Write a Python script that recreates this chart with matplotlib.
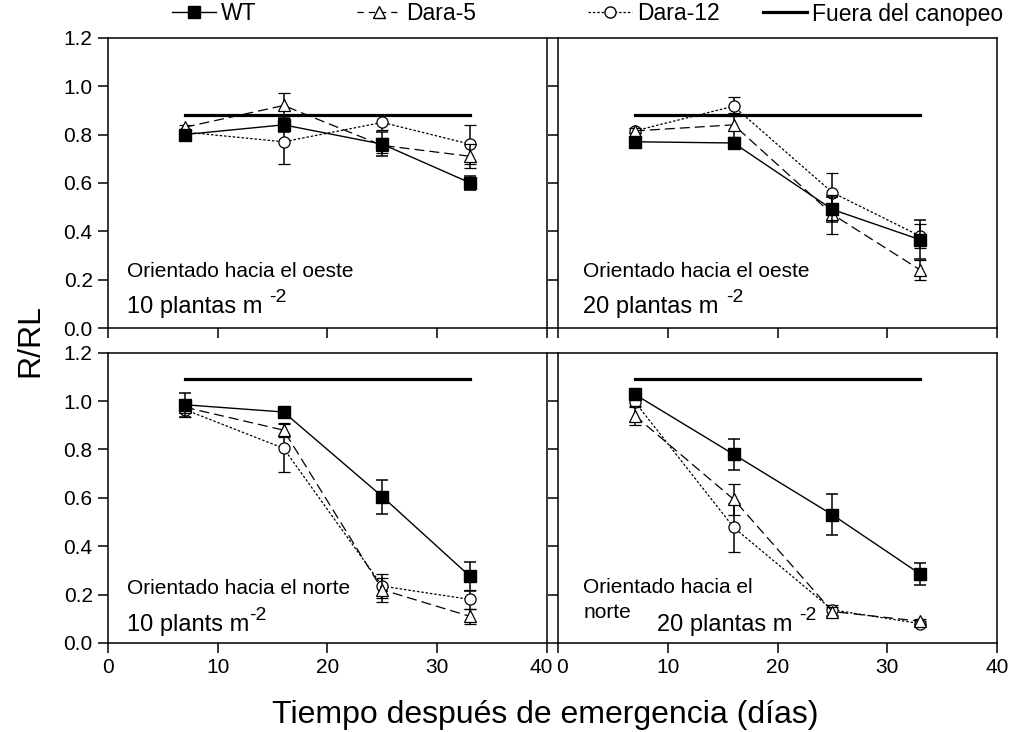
import numpy as np
import matplotlib
matplotlib.use("Agg")
import matplotlib.pyplot as plt
import matplotlib.transforms as mtransforms
from matplotlib.lines import Line2D

plt.rcParams['font.family'] = ['Liberation Sans', 'DejaVu Sans']

# dias despues de emergencia
dias = [7, 16, 25, 33]

# oeste, 10 plantas
wt_o10 = [0.80, 0.84, 0.76, 0.60]
wt_o10_e = [0.02, 0.03, 0.05, 0.03]
d5_o10 = [0.83, 0.92, 0.755, 0.71]
d5_o10_e = [0.01, 0.05, 0.03, 0.05]
d12_o10 = [0.81, 0.77, 0.85, 0.76]
d12_o10_e = [0.01, 0.09, 0.03, 0.08]

# oeste, 20 plantas
wt_o20 = [0.77, 0.765, 0.49, 0.365]
wt_o20_e = [0.02, 0.02, 0.05, 0.08]
d5_o20 = [0.815, 0.84, 0.47, 0.24]
d5_o20_e = [0.01, 0.05, 0.08, 0.04]
d12_o20 = [0.815, 0.917, 0.56, 0.38]
d12_o20_e = [0.01, 0.04, 0.08, 0.05]

# norte, 10 plantas
wt_n10 = [0.985, 0.955, 0.605, 0.275]
wt_n10_e = [0.05, 0.02, 0.07, 0.06]
d5_n10 = [0.975, 0.88, 0.22, 0.11]
d5_n10_e = [0.02, 0.03, 0.05, 0.03]
d12_n10 = [0.965, 0.805, 0.235, 0.18]
d12_n10_e = [0.03, 0.10, 0.05, 0.04]

# norte, 20 plantas
wt_n20 = [1.028, 0.78, 0.53, 0.285]
wt_n20_e = [0.02, 0.065, 0.085, 0.045]
d5_n20 = [0.94, 0.594, 0.13, 0.09]
d5_n20_e = [0.04, 0.065, 0.02, 0.01]
d12_n20 = [0.997, 0.478, 0.137, 0.08]
d12_n20_e = [0.02, 0.10, 0.02, 0.01]

# fuera del canopeo
fuera_oeste = 0.88
fuera_norte = 1.09

fig = plt.figure(figsize=(10.15, 7.32), dpi=100)
w = 0.4325
h = 0.3965
ax_tl = fig.add_axes([0.1064, 0.5519, w, h])
ax_tr = fig.add_axes([0.5498, 0.5519, w, h])
ax_bl = fig.add_axes([0.1064, 0.1216, w, h])
ax_br = fig.add_axes([0.5498, 0.1216, w, h])

paneles = [
    (ax_tl, wt_o10, wt_o10_e, d5_o10, d5_o10_e, d12_o10, d12_o10_e, fuera_oeste),
    (ax_tr, wt_o20, wt_o20_e, d5_o20, d5_o20_e, d12_o20, d12_o20_e, fuera_oeste),
    (ax_bl, wt_n10, wt_n10_e, d5_n10, d5_n10_e, d12_n10, d12_n10_e, fuera_norte),
    (ax_br, wt_n20, wt_n20_e, d5_n20, d5_n20_e, d12_n20, d12_n20_e, fuera_norte),
]

for ax, wt, wte, d5, d5e, d12, d12e, fuera in paneles:
    ax.plot([dias[0], dias[-1]], [fuera, fuera], color='black', lw=2.3, zorder=2)
    ax.errorbar(dias, d12, yerr=d12e, color='black', ls=(0, (2, 1.5)), lw=0.9,
                marker='o', ms=8, mfc='white', mec='black', mew=0.9,
                capsize=4.5, elinewidth=1.1, capthick=1.1, zorder=3)
    ax.errorbar(dias, d5, yerr=d5e, color='black', ls=(0, (8, 4)), lw=0.9,
                marker='^', ms=8, mfc='white', mec='black', mew=0.9,
                capsize=4.5, elinewidth=1.1, capthick=1.1, zorder=4)
    ax.errorbar(dias, wt, yerr=wte, color='black', ls='-', lw=1.0,
                marker='s', ms=9, mfc='black', mec='black',
                capsize=4.5, elinewidth=1.1, capthick=1.1, zorder=5)
    ax.set_xlim(0, 40)
    ax.set_ylim(0, 1.2)
    ax.set_xticks([0, 10, 20, 30, 40])
    ax.set_yticks(np.arange(0, 1.21, 0.2))
    ax.tick_params(direction='out', length=7, width=1.1, labelsize=15, pad=4)
    for s in ax.spines.values():
        s.set_linewidth(1.1)

ax_tl.set_xticklabels([])
ax_tr.set_xticklabels([])
ax_tr.set_yticklabels([])
ax_br.set_yticklabels([])
ax_tl.set_yticklabels(['0.0', '0.2', '0.4', '0.6', '0.8', '1.0', '1.2'])
ax_bl.set_yticklabels(['0.0', '0.2', '0.4', '0.6', '0.8', '1.0', '1.2'])
ax_bl.set_xticklabels(['0', '10', '20', '30', '40'])
ax_br.set_xticklabels(['0', '10', '20', '30', '40'])

# separar el "40" y el "0" que quedan juntos
lab40 = ax_bl.get_xticklabels()[-1]
lab40.set_transform(lab40.get_transform() +
                    mtransforms.ScaledTranslation(-6 / 100, 0, fig.dpi_scale_trans))
lab0 = ax_br.get_xticklabels()[0]
lab0.set_transform(lab0.get_transform() +
                   mtransforms.ScaledTranslation(4 / 100, 0, fig.dpi_scale_trans))


def densidad(ax, x, y, texto):
    t = ax.text(x, y, texto, fontsize=17, va='center')
    ax.annotate('-2', xy=(1, 0.55), xycoords=t, xytext=(0.5, 0),
                textcoords='offset points', fontsize=14, va='bottom', ha='left')


ax_tl.text(1.7, 0.232, 'Orientado hacia el oeste', fontsize=15, va='center')
densidad(ax_tl, 1.7, 0.087, '10 plantas m ')
ax_tr.text(2.3, 0.232, 'Orientado hacia el oeste', fontsize=15, va='center')
densidad(ax_tr, 2.3, 0.087, '20 plantas m ')
ax_bl.text(1.7, 0.227, 'Orientado hacia el norte', fontsize=15, va='center')
densidad(ax_bl, 1.7, 0.074, '10 plants m')
ax_br.text(2.3, 0.23, 'Orientado hacia el', fontsize=15, va='center')
ax_br.text(2.3, 0.124, 'norte', fontsize=15, va='center')
densidad(ax_br, 9.0, 0.074, '20 plantas m ')

fig.text(0.03, 0.535, 'R/RL', rotation=90, fontsize=23, ha='center', va='center')
fig.text(0.537, 0.023, 'Tiempo después de emergencia (días)', fontsize=23,
         ha='center', va='center')

# leyenda: cada entrada en su sitio
entradas = [
    (Line2D([], [], color='black', ls='-', lw=1.0, marker='s', ms=9), 'WT', 172),
    (Line2D([], [], color='black', ls=(0, (5, 4)), lw=0.9, marker='^', ms=8,
            mfc='white'), 'Dara-5', 357),
    (Line2D([], [], color='black', ls=(0, (2, 1.5)), lw=0.9, marker='o', ms=8,
            mfc='white'), 'Dara-12', 588),
    (Line2D([], [], color='black', ls='-', lw=2.3), 'Fuera del canopeo', 763),
]
for hnd, lab, xpx in entradas:
    fig.legend(handles=[hnd], labels=[lab], loc='center left',
               bbox_to_anchor=(xpx / 1015, 1 - 14 / 732), frameon=False,
               borderpad=0, borderaxespad=0, handlelength=1.9,
               handletextpad=0.25, fontsize=16.5)

fig.savefig('out.png', dpi=100)
